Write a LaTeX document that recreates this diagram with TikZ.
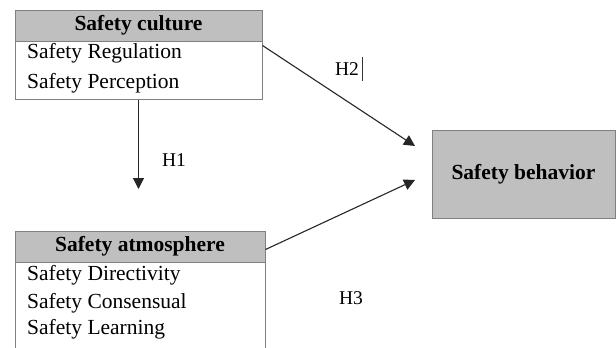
\documentclass[tikz,border=0pt]{standalone}
\usepackage{fontspec}
\setmainfont{Liberation Serif}
\usetikzlibrary{arrows.meta}
\begin{document}
\begin{tikzpicture}[x=1pt,y=-1pt,
  boxline/.style={draw=black!50,line width=1pt},
  header/.style={boxline,fill=black!25,rectangle,inner sep=0pt,font=\fontsize{21.5}{24}\selectfont\bfseries},
  item/.style={anchor=west,inner sep=0pt,font=\fontsize{21.5}{24}\selectfont},
  lbl/.style={inner sep=0pt,font=\fontsize{19.5}{22}\selectfont},
  arr/.style={draw=black!85,line width=1.1pt,-{Triangle[length=11pt,width=11pt]}}]
\clip (0,0) rectangle (616,348);
\fill[white] (0,0) rectangle (616,348);
% top box
\node[boxline,rectangle,inner sep=0pt,minimum width=247pt,minimum height=89pt] (cult) at (138.5,54.5) {};
\node[header,minimum width=247pt,minimum height=31pt] (culth) at (138.5,25.5) {Safety culture};
\node[item] (reg) at (27,53) {Safety Regulation};
\node[item] (per) at (27,83) {Safety Perception};
% bottom box
\node[boxline,rectangle,inner sep=0pt,minimum width=250pt,minimum height=140pt] (atm) at (140,301) {};
\node[header,minimum width=250pt,minimum height=31pt] (atmh) at (140,246.5) {Safety atmosphere};
\node[item] (dir) at (27,275) {Safety Directivity};
\node[item] (con) at (27,303) {Safety Consensual};
\node[item] (lea) at (27,329) {Safety Learning};
% behavior box
\node[boxline,fill=black!25,rectangle,inner sep=0pt,minimum width=183pt,minimum height=88pt,font=\fontsize{21.5}{24}\selectfont\bfseries] (beh) at (523.5,174) {Safety behavior};
% arrow ends
\coordinate (h1end) at (138.5,189);
\coordinate (h2end) at (415,146);
\coordinate (h3end) at (415,180);
\draw[arr] (cult.south) -- (h1end);
\draw[arr] ([yshift=-4pt]culth.south east) -- (h2end);
\draw[arr] ([yshift=-3pt]atmh.east) -- (h3end);
% labels
\node[lbl] (l1) at (174,160) {H1};
\node[lbl] (l2) at (347,69) {H2};
\draw[black!80,line width=0.9pt] ([xshift=3pt,yshift=12pt]l2.east) -- ([xshift=3pt,yshift=-12pt]l2.east);
\node[lbl] (l3) at (351,298) {H3};
\end{tikzpicture}
\end{document}
